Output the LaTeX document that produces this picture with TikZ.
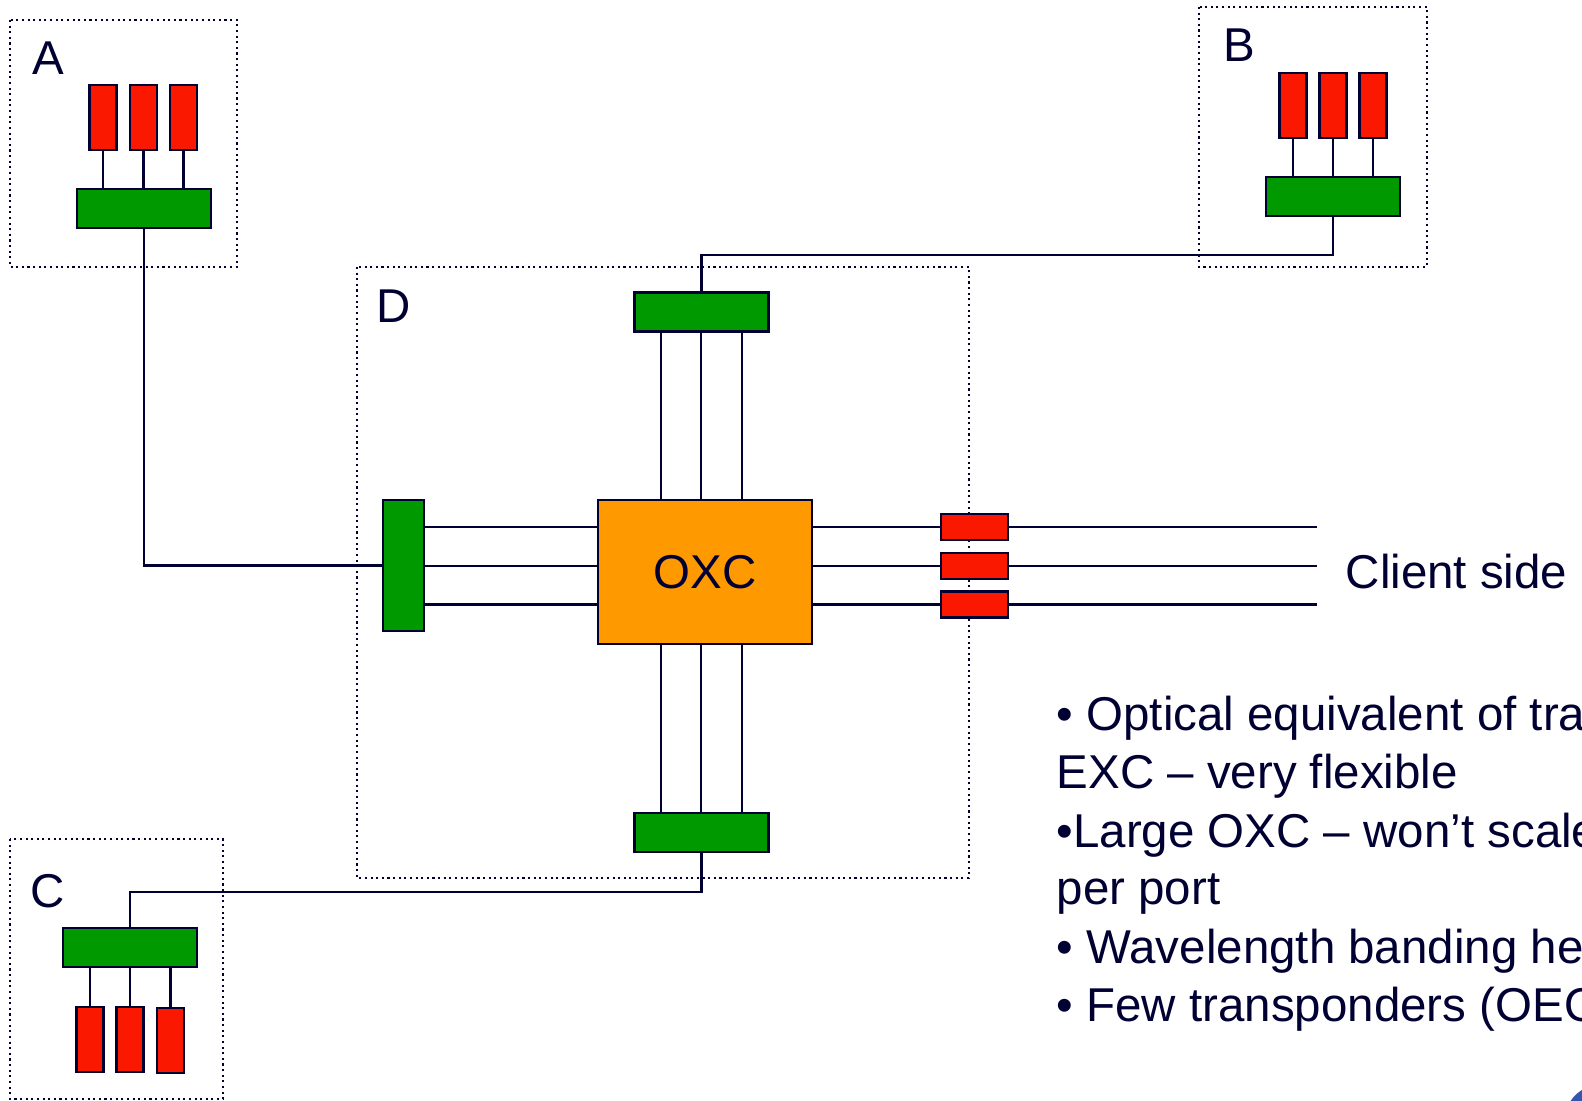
\documentclass[tikz,border=0pt]{standalone}
\usepackage{fontspec}
\setmainfont{Liberation Sans}
\usetikzlibrary{calc}
\definecolor{navy}{RGB}{0,0,51}
\definecolor{myred}{RGB}{250,25,0}
\definecolor{mygreen}{RGB}{0,153,0}
\definecolor{myorange}{RGB}{255,153,0}
\definecolor{logoblue}{RGB}{55,85,175}

\tikzset{
  redbox/.style={draw=navy, fill=myred, line width=0.6pt, inner sep=0pt,
    minimum width=0.27cm, minimum height=0.65cm},
  portbox/.style={draw=navy, fill=myred, line width=0.6pt, inner sep=0pt,
    minimum width=0.67cm, minimum height=0.26cm},
  greenbox/.style={draw=navy, fill=mygreen, line width=0.6pt, inner sep=0pt,
    minimum width=1.34cm, minimum height=0.39cm},
  sitebox/.style={draw=navy, densely dotted, line width=0.6pt},
  wire/.style={draw=navy, line width=0.6pt},
  lbl/.style={text=navy, inner sep=0pt, font=\fontsize{13.5}{16.5}\selectfont}
}

\begin{document}
\begin{tikzpicture}[x=0.01cm,y=-0.01cm]

    % Frame
    \clip (0,0) rectangle (1582,1101);
    \fill[white] (0,0) rectangle (1582,1101);

    % Sites
    \draw[sitebox] (10,20) rectangle (237,267);
    \draw[sitebox] (1199,7) rectangle (1427,267);
    \draw[sitebox] (10,839) rectangle (223,1099);
    \draw[sitebox] (357,267) rectangle (969,878);
    \node[lbl] at (48,58) (labA) {A};
    \node[lbl] at (1239,45) (labB) {B};
    \node[lbl] at (48,891) (labC) {C};
    \node[lbl] at (394,306) (labD) {D};

    % Site A
    \node[redbox] at (103,117.5) (a1) {};
    \node[redbox] at (143.5,117.5) (a2) {};
    \node[redbox] at (183.5,117.5) (a3) {};
    \node[greenbox] at (144,208.5) (ga) {};
    \draw[wire] (a1.south) -- (a1.south |- ga.north);
    \draw[wire] (a2.south) -- (a2.south |- ga.north);
    \draw[wire] (a3.south) -- (a3.south |- ga.north);

    % Site B
    \node[redbox] at (1293,105.5) (b1) {};
    \node[redbox] at (1333,105.5) (b2) {};
    \node[redbox] at (1373,105.5) (b3) {};
    \node[greenbox] at (1333,196.5) (gb) {};
    \draw[wire] (b1.south) -- (b1.south |- gb.north);
    \draw[wire] (b2.south) -- (b2.south |- gb.north);
    \draw[wire] (b3.south) -- (b3.south |- gb.north);

    % Site C
    \node[greenbox] at (130,947.5) (gc) {};
    \node[redbox] at (90,1039.5) (c1) {};
    \node[redbox] at (130,1039.5) (c2) {};
    \node[redbox] at (170.5,1040.5) (c3) {};
    \draw[wire] (c1.north) -- (c1.north |- gc.south);
    \draw[wire] (c2.north) -- (c2.north |- gc.south);
    \draw[wire] (c3.north) -- (c3.north |- gc.south);

    % Node D
    \node[draw=navy, fill=myorange, line width=0.6pt, minimum width=2.14cm,
      minimum height=1.44cm, lbl] at (705,572) (oxc) {OXC};
    \node[greenbox] at (701.5,312) (tg) {};
    \node[greenbox] at (701.5,832.5) (bg) {};
    \node[greenbox, minimum width=0.41cm, minimum height=1.31cm] at (403.5,565.5) (lg) {};
    \node[portbox] at (974.5,527) (r1) {};
    \node[portbox] at (974.5,566) (r2) {};
    \node[portbox] at (974.5,604.5) (r3) {};
    \coordinate (cend) at (1317,566);

    \draw[wire] (tg.south -| 661,0) -- (oxc.north -| 661,0);
    \draw[wire] (tg.south -| 701,0) -- (oxc.north -| 701,0);
    \draw[wire] (tg.south -| 742,0) -- (oxc.north -| 742,0);
    \draw[wire] (bg.north -| 661,0) -- (oxc.south -| 661,0);
    \draw[wire] (bg.north -| 701,0) -- (oxc.south -| 701,0);
    \draw[wire] (bg.north -| 742,0) -- (oxc.south -| 742,0);

    \draw[wire] (lg.east |- r1) -- (oxc.west |- r1);
    \draw[wire] (lg.east |- r2) -- (oxc.west |- r2);
    \draw[wire] (lg.east |- r3) -- (oxc.west |- r3);
    \draw[wire] (oxc.east |- r1) -- (r1.west);
    \draw[wire] (oxc.east |- r2) -- (r2.west);
    \draw[wire] (oxc.east |- r3) -- (r3.west);
    \draw[wire] (r1.east) -- (r1.east -| cend);
    \draw[wire] (r2.east) -- (cend);
    \draw[wire] (r3.east) -- (r3.east -| cend);
    \node[lbl, anchor=west] at (1345,572) (client) {Client side};

    % Links between sites
    \draw[wire] (ga.south) |- (lg.west);
    \draw[wire] (gb.south) -- ++(0,38) -| (tg.north);
    \draw[wire] (bg.south) -- ++(0,39) -| (gc.north);

    % Notes
    \node[lbl, anchor=base west] at (1056,731) (n1) {• Optical equivalent of tra};
    \node[lbl, anchor=base west] at (1056,789) (n2) {EXC – very flexible};
    \node[lbl, anchor=base west] at (1056,847) (n3) {•Large OXC – won’t scale};
    \node[lbl, anchor=base west] at (1056,905) (n4) {per port};
    \node[lbl, anchor=base west] at (1056,963) (n5) {• Wavelength banding he};
    \node[lbl, anchor=base west] at (1056,1021) (n6) {• Few transponders (OEO};

    % Logo corner
    \fill[logoblue] (1600,1120) circle (35);

\end{tikzpicture}
\end{document}
